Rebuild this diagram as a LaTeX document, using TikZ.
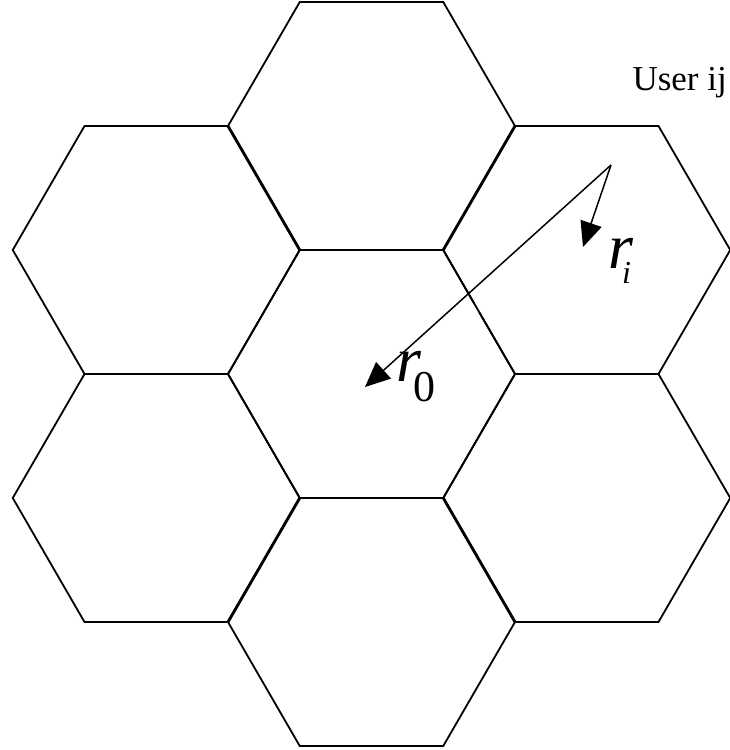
\documentclass[tikz,border=0pt]{standalone}
\usepackage{fontspec}
\setmainfont{Liberation Serif}
\usetikzlibrary{arrows.meta,calc}
\begin{document}
\begin{tikzpicture}[x=1pt,y=-1pt,
  hexline/.style={line width=1.8pt, line join=miter},
  thickedge/.style={line width=2.8pt},
  arr/.style={line width=1.5pt, -{Triangle[length=25pt,width=22pt]}},
  lbl/.style={inner sep=0pt, anchor=base west}]
\useasboundingbox (0,0) rectangle (729,750);
% hexagon centres
\coordinate (hc) at (371.5,374);
\foreach \cx/\cy in {371.5/126, 156.25/250, 586.75/250, 156.25/498, 586.75/498, 371.5/622}{
  \draw[hexline, shift={(\cx,\cy)}] (143.5,0) -- (71.75,124) -- (-71.75,124) -- (-143.5,0) -- (-71.75,-124) -- (71.75,-124) -- cycle;
}
% centre hexagon with a small gap on its upper right edge
\coordinate (tr) at ($(hc)+(71.75,-124)$);
\coordinate (r)  at ($(hc)+(143.5,0)$);
\coordinate (br) at ($(hc)+(71.75,124)$);
\coordinate (bl) at ($(hc)+(-71.75,124)$);
\coordinate (l)  at ($(hc)+(-143.5,0)$);
\coordinate (tl) at ($(hc)+(-71.75,-124)$);
\draw[hexline] ($(tr)!0.505!(r)$) -- (r) -- (br) -- (bl) -- (l) -- (tl) -- (tr) -- ($(tr)!0.43!(r)$);
% heavier shared edges
\draw[thickedge] (tl) -- ++(-71.75,-124);
\draw[thickedge] (tr) -- ++(71.75,-124);
\draw[thickedge] (bl) -- ++(-71.75,124);
\draw[thickedge] (br) -- ++(71.75,124);
% arrows
\coordinate (src) at (611,165);
\coordinate (ti) at (583,247);
\coordinate (t0) at (365,387);
\draw[arr] (src) -- (ti);
\draw[arr] (src) -- (t0);
% labels
\node[inner sep=0pt, anchor=base east] (user) at (727,90) {\fontsize{35}{35}\selectfont User ij};
\node[lbl] (ri) at (608,268) {\fontsize{64}{64}\selectfont\itshape r\kern-11pt\raisebox{-15pt}{\fontsize{32}{32}\selectfont i}};
\node[lbl] (r0) at (396,381) {\fontsize{64}{64}\selectfont\itshape r\kern-8pt\raisebox{-20pt}{\upshape\fontsize{44}{44}\selectfont 0}};
\end{tikzpicture}
\end{document}
